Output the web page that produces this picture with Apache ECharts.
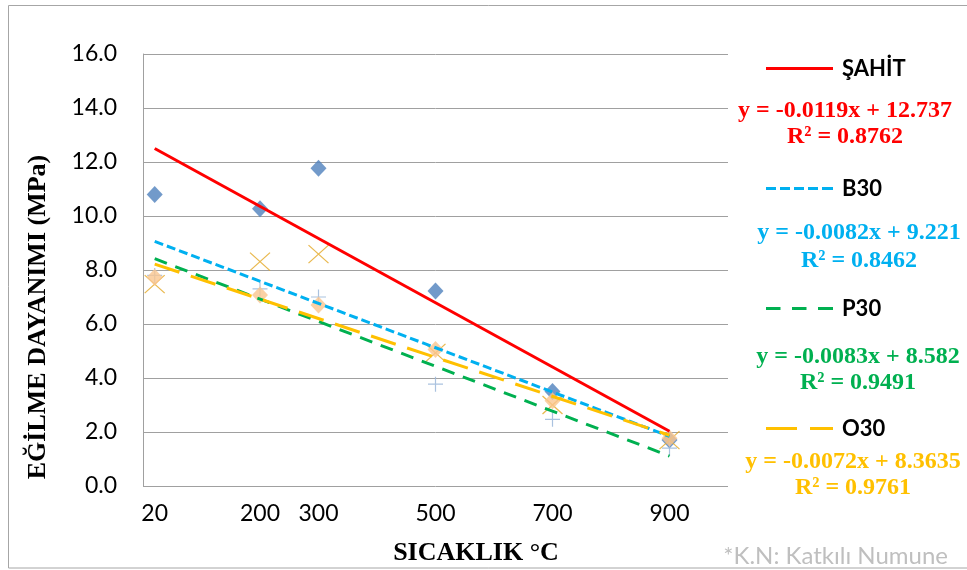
<!DOCTYPE html>
<html>
<head>
<meta charset="utf-8">
<script src="https://cdn.jsdelivr.net/npm/echarts@6/dist/echarts.min.js"></script>
<style>
  html, body { margin: 0; padding: 0; background: #fff; }
  #chart { width: 967px; height: 570px; }
</style>
</head>
<body>
<div id="chart"></div>
<script>
// measured points (temperature in °C, flexural strength in MPa)
const temps = [20, 200, 300, 500, 700, 900];
const sahit = [10.8, 10.27, 11.77, 7.22, 3.5, 1.7];
const b30 = [7.48, 8.31, 8.59, 4.93, 3.0, 1.7];
const p30 = [7.8, 7.3, 7.0, 3.77, 2.47, 1.4];
const o30 = [7.73, 7.07, 6.7, 5.06, 3.16, 1.77];

// linear trend lines, start and end values
const trendX = [20, 900];
const sahitFit = [12.5, 2.03];
const b30Fit = [9.06, 1.84];
const p30Fit = [8.42, 1.11];
const o30Fit = [8.22, 1.88];

const names = ['ŞAHİT', 'B30', 'P30', 'O30'];
const eqTexts = ['y = -0.0119x + 12.737', 'y = -0.0082x + 9.221', 'y = -0.0083x + 8.582', 'y = -0.0072x + 8.3635'];
const r2Texts = ['R² = 0.8762', 'R² = 0.8462', 'R² = 0.9491', 'R² = 0.9761'];
const yTicks = [0, 2, 4, 6, 8, 10, 12, 14, 16];

const lineColors = ['#FF0000', '#00B0F0', '#00B050', '#FFC000'];
const dashes = ['solid', [9, 4], [13, 9], [26, 12]];
// legend samples drawn as filled dash paths (67 x 3 px)
const legendIcons = [
  'path://M0,0h67v3h-67z',
  'path://M0,0h10v3h-10zM14,0h10v3h-10zM28,0h10v3h-10zM42,0h10v3h-10zM56,0h11v3h-11z',
  'path://M0,0h14.5v3h-14.5zM26,0h14.5v3h-14.5zM52,0h15v3h-15z',
  'path://M0,0h31v3h-31zM44,0h23v3h-23z'
];
const eqPos = [[845, 111, 137], [859, 233, 261], [858, 357, 383], [853, 462, 488]];
const legendMid = [67, 187, 307, 427];

const pairs = (xs, ys) => xs.map((x, i) => [x, ys[i]]);
const fits = [sahitFit, b30Fit, p30Fit, o30Fit];

const chart = echarts.init(document.getElementById('chart'));

const markerSeries = [
  {
    name: 'ŞAHİT veri', type: 'scatter', data: pairs(temps, sahit),
    symbol: 'diamond', symbolSize: [16, 17],
    itemStyle: { color: '#4F81BD' }, z: 2
  },
  {
    name: 'B30 veri', type: 'scatter', data: pairs(temps, b30),
    symbol: 'path://M0,0L10,10M10,0L0,10', symbolSize: [20, 18],
    itemStyle: { color: 'transparent', borderColor: '#E3A824', borderWidth: 1.2 }, z: 2
  },
  {
    name: 'P30 veri', type: 'scatter', data: pairs(temps, p30),
    symbol: 'path://M5,0L5,10M0,5L10,5', symbolSize: 15,
    itemStyle: { color: 'transparent', borderColor: '#95B3D7', borderWidth: 1.2 }, z: 2
  },
  {
    name: 'O30 veri', type: 'scatter', data: pairs(temps, o30),
    symbol: 'diamond', symbolSize: [16, 17],
    itemStyle: { color: '#FAC68F' }, z: 2
  }
];

const trendSeries = names.map((n, i) => ({
  name: n,
  type: 'line',
  data: pairs(trendX, fits[i]),
  symbol: 'none',
  lineStyle: { color: lineColors[i], width: 3, type: dashes[i] },
  itemStyle: { color: lineColors[i] },
  z: 4
}));

const legends = names.map((n, i) => ({
  data: [{ name: n, icon: legendIcons[i] }],
  left: 766,
  top: legendMid[i] - 9.5,
  padding: 0,
  itemWidth: 67,
  itemHeight: 3,
  symbolKeepAspect: false,
  selectedMode: false,
  itemStyle: { color: lineColors[i], borderWidth: 0 },
  textStyle: {
    fontFamily: 'Lato', fontWeight: 'bold', fontSize: 22, color: '#000',
    padding: [0, 0, 0, 4]
  }
}));

const eqGraphics = [];
names.forEach((n, i) => {
  eqGraphics.push({
    type: 'text', x: eqPos[i][0], y: eqPos[i][1],
    style: { text: eqTexts[i], font: 'bold 24px "Liberation Serif"', fill: lineColors[i], textAlign: 'center', textVerticalAlign: 'middle' }
  });
  eqGraphics.push({
    type: 'text', x: eqPos[i][0], y: eqPos[i][2],
    style: { text: r2Texts[i], font: 'bold 24px "Liberation Serif"', fill: lineColors[i], textAlign: 'center', textVerticalAlign: 'middle' }
  });
});

const option = {
  animation: false,
  backgroundColor: '#fff',
  grid: { left: 143, right: 239, top: 54, bottom: 84 },
  legend: legends,
  xAxis: {
    type: 'value',
    min: 0,
    max: 1000,
    axisLine: { show: false },
    axisTick: { show: false },
    splitLine: { show: false },
    axisLabel: {
      customValues: temps,
      margin: 16,
      fontFamily: 'Lato', fontSize: 23, color: '#000'
    }
  },
  yAxis: {
    type: 'value',
    min: yTicks[0],
    max: yTicks[yTicks.length - 1],
    interval: 2,
    axisLine: { show: true, lineStyle: { color: '#A0A0A0', width: 1 } },
    axisTick: { show: false },
    splitLine: { lineStyle: { color: '#A0A0A0', width: 1 } },
    axisLabel: {
      margin: 26,
      fontFamily: 'Lato', fontSize: 23, color: '#000',
      formatter: v => v.toFixed(1)
    }
  },
  series: markerSeries.concat(trendSeries),
  graphic: [
    {
      type: 'rect', silent: true,
      shape: { x: 8.5, y: 5.5, width: 1000, height: 562.5 },
      style: { fill: 'none', stroke: '#A6A6A6', lineWidth: 1 }
    },
    {
      type: 'text', x: 38, y: 317, rotation: Math.PI / 2,
      style: { text: 'EĞİLME DAYANIMI (MPa)', font: 'bold 26px "Liberation Serif"', fill: '#000', textAlign: 'center', textVerticalAlign: 'middle' }
    },
    {
      type: 'text', x: 476, y: 553,
      style: { text: 'SICAKLIK °C', font: 'bold 26px "Liberation Serif"', fill: '#000', textAlign: 'center', textVerticalAlign: 'middle' }
    },
    {
      type: 'text', x: 948, y: 556,
      style: { text: '*K.N: Katkılı Numune', font: '24px Lato', fill: '#BFBFBF', textAlign: 'right', textVerticalAlign: 'middle' }
    }
  ].concat(eqGraphics)
};

chart.setOption(option);
</script>
</body>
</html>
